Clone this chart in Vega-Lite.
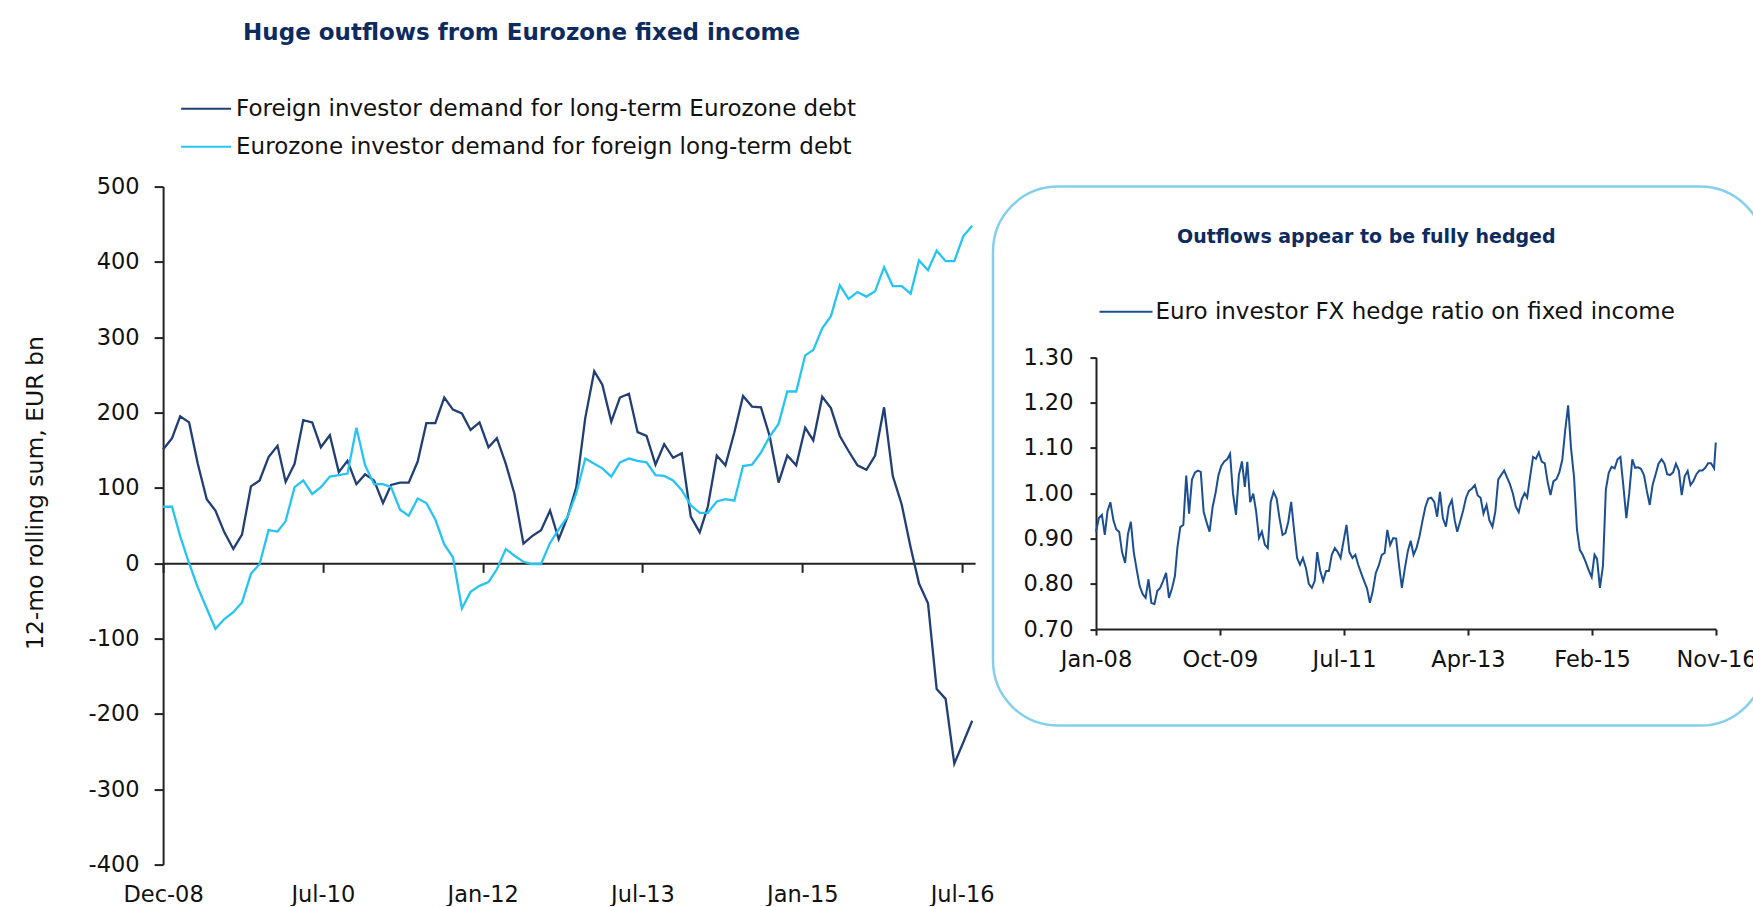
{
  "$schema": "https://vega.github.io/schema/vega-lite/v6.json",
  "autosize": {"type": "pad"},
  "padding": {"left": 23.1, "top": 21.6, "right": 0, "bottom": 0},
  "background": "white",
  "config": {
    "font": "DejaVu Sans",
    "view": {"stroke": null},
    "axis": {"grid": false, "domainColor": "#222222", "tickColor": "#222222", "labelColor": "#111111", "labelFont": "DejaVu Sans", "labelFontSize": 22.5, "domainWidth": 2, "tickWidth": 2, "titleFont": "DejaVu Sans", "titleFontWeight": "normal", "titleColor": "#111111", "labelFlush": false},
    "legend": {"labelFont": "DejaVu Sans", "labelFontSize": 23, "labelColor": "#111111", "labelLimit": 1000, "symbolType": "stroke", "symbolStrokeWidth": 2, "padding": 0}
  },
  "datasets": {
    "flows": [
      {"date":"2008-12-31","foreign":151,"eurozone":75},
      {"date":"2009-01-31","foreign":166,"eurozone":75},
      {"date":"2009-02-28","foreign":195,"eurozone":36},
      {"date":"2009-03-31","foreign":187,"eurozone":0},
      {"date":"2009-04-30","foreign":132,"eurozone":-32},
      {"date":"2009-05-31","foreign":85,"eurozone":-60},
      {"date":"2009-06-30","foreign":70,"eurozone":-87},
      {"date":"2009-07-31","foreign":41,"eurozone":-74},
      {"date":"2009-08-31","foreign":19,"eurozone":-65},
      {"date":"2009-09-30","foreign":38,"eurozone":-52},
      {"date":"2009-10-31","foreign":102,"eurozone":-14},
      {"date":"2009-11-30","foreign":110,"eurozone":-1},
      {"date":"2009-12-31","foreign":141,"eurozone":44},
      {"date":"2010-01-31","foreign":156,"eurozone":42},
      {"date":"2010-02-28","foreign":108,"eurozone":56},
      {"date":"2010-03-31","foreign":132,"eurozone":101},
      {"date":"2010-04-30","foreign":190,"eurozone":110},
      {"date":"2010-05-31","foreign":187,"eurozone":92},
      {"date":"2010-06-30","foreign":154,"eurozone":101},
      {"date":"2010-07-31","foreign":170,"eurozone":115},
      {"date":"2010-08-31","foreign":121,"eurozone":117},
      {"date":"2010-09-30","foreign":136,"eurozone":119},
      {"date":"2010-10-31","foreign":105,"eurozone":180},
      {"date":"2010-11-30","foreign":118,"eurozone":130},
      {"date":"2010-12-31","foreign":110,"eurozone":105},
      {"date":"2011-01-31","foreign":80,"eurozone":105},
      {"date":"2011-02-28","foreign":104,"eurozone":101},
      {"date":"2011-03-31","foreign":107,"eurozone":71},
      {"date":"2011-04-30","foreign":107,"eurozone":63},
      {"date":"2011-05-31","foreign":135,"eurozone":86},
      {"date":"2011-06-30","foreign":186,"eurozone":80},
      {"date":"2011-07-31","foreign":186,"eurozone":58},
      {"date":"2011-08-31","foreign":220,"eurozone":25},
      {"date":"2011-09-30","foreign":204,"eurozone":8},
      {"date":"2011-10-31","foreign":199,"eurozone":-60},
      {"date":"2011-11-30","foreign":177,"eurozone":-38},
      {"date":"2011-12-31","foreign":187,"eurozone":-30},
      {"date":"2012-01-31","foreign":154,"eurozone":-25},
      {"date":"2012-02-29","foreign":166,"eurozone":-8},
      {"date":"2012-03-31","foreign":132,"eurozone":19},
      {"date":"2012-04-30","foreign":92,"eurozone":10},
      {"date":"2012-05-31","foreign":26,"eurozone":2},
      {"date":"2012-06-30","foreign":36,"eurozone":-1},
      {"date":"2012-07-31","foreign":44,"eurozone":-1},
      {"date":"2012-08-31","foreign":70,"eurozone":27},
      {"date":"2012-09-30","foreign":32,"eurozone":45},
      {"date":"2012-10-31","foreign":62,"eurozone":62},
      {"date":"2012-11-30","foreign":101,"eurozone":93},
      {"date":"2012-12-31","foreign":193,"eurozone":139},
      {"date":"2013-01-31","foreign":255,"eurozone":132},
      {"date":"2013-02-28","foreign":237,"eurozone":126},
      {"date":"2013-03-31","foreign":188,"eurozone":115},
      {"date":"2013-04-30","foreign":220,"eurozone":134},
      {"date":"2013-05-31","foreign":225,"eurozone":139},
      {"date":"2013-06-30","foreign":174,"eurozone":136},
      {"date":"2013-07-31","foreign":169,"eurozone":134},
      {"date":"2013-08-31","foreign":131,"eurozone":117},
      {"date":"2013-09-30","foreign":158,"eurozone":116},
      {"date":"2013-10-31","foreign":140,"eurozone":110},
      {"date":"2013-11-30","foreign":146,"eurozone":97},
      {"date":"2013-12-31","foreign":62,"eurozone":77},
      {"date":"2014-01-31","foreign":41,"eurozone":67},
      {"date":"2014-02-28","foreign":75,"eurozone":67},
      {"date":"2014-03-31","foreign":143,"eurozone":82},
      {"date":"2014-04-30","foreign":130,"eurozone":85},
      {"date":"2014-05-31","foreign":174,"eurozone":83},
      {"date":"2014-06-30","foreign":222,"eurozone":129},
      {"date":"2014-07-31","foreign":208,"eurozone":131},
      {"date":"2014-08-31","foreign":207,"eurozone":147},
      {"date":"2014-09-30","foreign":169,"eurozone":168},
      {"date":"2014-10-31","foreign":107,"eurozone":185},
      {"date":"2014-11-30","foreign":143,"eurozone":228},
      {"date":"2014-12-31","foreign":130,"eurozone":228},
      {"date":"2015-01-31","foreign":180,"eurozone":276},
      {"date":"2015-02-28","foreign":163,"eurozone":283},
      {"date":"2015-03-31","foreign":221,"eurozone":312},
      {"date":"2015-04-30","foreign":206,"eurozone":328},
      {"date":"2015-05-31","foreign":169,"eurozone":369},
      {"date":"2015-06-30","foreign":149,"eurozone":351},
      {"date":"2015-07-31","foreign":130,"eurozone":360},
      {"date":"2015-08-31","foreign":124,"eurozone":354},
      {"date":"2015-09-30","foreign":143,"eurozone":361},
      {"date":"2015-10-31","foreign":207,"eurozone":393},
      {"date":"2015-11-30","foreign":116,"eurozone":368},
      {"date":"2015-12-31","foreign":78,"eurozone":368},
      {"date":"2016-01-31","foreign":21,"eurozone":358},
      {"date":"2016-02-29","foreign":-27,"eurozone":402},
      {"date":"2016-03-31","foreign":-53,"eurozone":389},
      {"date":"2016-04-30","foreign":-167,"eurozone":415},
      {"date":"2016-05-31","foreign":-180,"eurozone":401},
      {"date":"2016-06-30","foreign":-266,"eurozone":401},
      {"date":"2016-07-31","foreign":-238,"eurozone":434},
      {"date":"2016-08-31","foreign":-209,"eurozone":448}
    ],
    "hedge": [
      {"date":"2008-01-01","hedge":0.915},{"date":"2008-01-16","hedge":0.945},
      {"date":"2008-02-01","hedge":0.952},{"date":"2008-02-16","hedge":0.908},
      {"date":"2008-03-01","hedge":0.96},{"date":"2008-03-16","hedge":0.98},
      {"date":"2008-04-01","hedge":0.94},{"date":"2008-04-16","hedge":0.92},
      {"date":"2008-05-01","hedge":0.915},{"date":"2008-05-16","hedge":0.87},
      {"date":"2008-06-01","hedge":0.846},{"date":"2008-06-16","hedge":0.91},
      {"date":"2008-07-01","hedge":0.937},{"date":"2008-07-16","hedge":0.87},
      {"date":"2008-08-01","hedge":0.83},{"date":"2008-08-16","hedge":0.795},
      {"date":"2008-09-01","hedge":0.777},{"date":"2008-09-16","hedge":0.769},
      {"date":"2008-10-01","hedge":0.81},{"date":"2008-10-16","hedge":0.758},
      {"date":"2008-11-01","hedge":0.755},{"date":"2008-11-16","hedge":0.784},
      {"date":"2008-12-01","hedge":0.791},{"date":"2008-12-16","hedge":0.806},
      {"date":"2009-01-01","hedge":0.824},{"date":"2009-01-16","hedge":0.769},
      {"date":"2009-02-01","hedge":0.79},{"date":"2009-02-16","hedge":0.817},
      {"date":"2009-03-01","hedge":0.88},{"date":"2009-03-16","hedge":0.925},
      {"date":"2009-04-01","hedge":0.93},{"date":"2009-04-16","hedge":1.039},
      {"date":"2009-05-01","hedge":0.955},{"date":"2009-05-16","hedge":1.03},
      {"date":"2009-06-01","hedge":1.046},{"date":"2009-06-16","hedge":1.05},
      {"date":"2009-07-01","hedge":1.047},{"date":"2009-07-16","hedge":0.959},
      {"date":"2009-08-01","hedge":0.935},{"date":"2009-08-16","hedge":0.915},
      {"date":"2009-09-01","hedge":0.97},{"date":"2009-09-16","hedge":1.0},
      {"date":"2009-10-01","hedge":1.039},{"date":"2009-10-16","hedge":1.06},
      {"date":"2009-11-01","hedge":1.07},{"date":"2009-11-16","hedge":1.075},
      {"date":"2009-12-01","hedge":1.087},{"date":"2009-12-16","hedge":1.0},
      {"date":"2010-01-01","hedge":0.952},{"date":"2010-01-16","hedge":1.04},
      {"date":"2010-02-01","hedge":1.07},{"date":"2010-02-16","hedge":1.014},
      {"date":"2010-03-01","hedge":1.069},{"date":"2010-03-16","hedge":0.98},
      {"date":"2010-04-01","hedge":0.999},{"date":"2010-04-16","hedge":0.96},
      {"date":"2010-05-01","hedge":0.901},{"date":"2010-05-16","hedge":0.915},
      {"date":"2010-06-01","hedge":0.886},{"date":"2010-06-16","hedge":0.879},
      {"date":"2010-07-01","hedge":0.98},{"date":"2010-07-16","hedge":1.003},
      {"date":"2010-08-01","hedge":0.988},{"date":"2010-08-16","hedge":0.945},
      {"date":"2010-09-01","hedge":0.908},{"date":"2010-09-16","hedge":0.912},
      {"date":"2010-10-01","hedge":0.937},{"date":"2010-10-16","hedge":0.981},
      {"date":"2010-11-01","hedge":0.915},{"date":"2010-11-16","hedge":0.857},
      {"date":"2010-12-01","hedge":0.842},{"date":"2010-12-16","hedge":0.857},
      {"date":"2011-01-01","hedge":0.835},{"date":"2011-01-16","hedge":0.8},
      {"date":"2011-02-01","hedge":0.791},{"date":"2011-02-16","hedge":0.806},
      {"date":"2011-03-01","hedge":0.87},{"date":"2011-03-16","hedge":0.83},
      {"date":"2011-04-01","hedge":0.806},{"date":"2011-04-16","hedge":0.828},
      {"date":"2011-05-01","hedge":0.828},{"date":"2011-05-16","hedge":0.864},
      {"date":"2011-06-01","hedge":0.879},{"date":"2011-06-16","hedge":0.87},
      {"date":"2011-07-01","hedge":0.857},{"date":"2011-07-16","hedge":0.893},
      {"date":"2011-08-01","hedge":0.93},{"date":"2011-08-16","hedge":0.87},
      {"date":"2011-09-01","hedge":0.857},{"date":"2011-09-16","hedge":0.864},
      {"date":"2011-10-01","hedge":0.842},{"date":"2011-10-16","hedge":0.824},
      {"date":"2011-11-01","hedge":0.806},{"date":"2011-11-16","hedge":0.79},
      {"date":"2011-12-01","hedge":0.758},{"date":"2011-12-16","hedge":0.784},
      {"date":"2012-01-01","hedge":0.824},{"date":"2012-01-16","hedge":0.84},
      {"date":"2012-02-01","hedge":0.864},{"date":"2012-02-16","hedge":0.868},
      {"date":"2012-03-01","hedge":0.919},{"date":"2012-03-16","hedge":0.886},
      {"date":"2012-04-01","hedge":0.901},{"date":"2012-04-16","hedge":0.9},
      {"date":"2012-05-01","hedge":0.842},{"date":"2012-05-16","hedge":0.791},
      {"date":"2012-06-01","hedge":0.835},{"date":"2012-06-16","hedge":0.872},
      {"date":"2012-07-01","hedge":0.895},{"date":"2012-07-16","hedge":0.864},
      {"date":"2012-08-01","hedge":0.88},{"date":"2012-08-16","hedge":0.905},
      {"date":"2012-09-01","hedge":0.94},{"date":"2012-09-16","hedge":0.97},
      {"date":"2012-10-01","hedge":0.988},{"date":"2012-10-16","hedge":0.99},
      {"date":"2012-11-01","hedge":0.981},{"date":"2012-11-16","hedge":0.948},
      {"date":"2012-12-01","hedge":1.003},{"date":"2012-12-16","hedge":0.945},
      {"date":"2013-01-01","hedge":0.926},{"date":"2013-01-16","hedge":0.97},
      {"date":"2013-02-01","hedge":0.985},{"date":"2013-02-16","hedge":0.94},
      {"date":"2013-03-01","hedge":0.915},{"date":"2013-03-16","hedge":0.937},
      {"date":"2013-04-01","hedge":0.962},{"date":"2013-04-16","hedge":0.99},
      {"date":"2013-05-01","hedge":1.005},{"date":"2013-05-16","hedge":1.01},
      {"date":"2013-06-01","hedge":1.018},{"date":"2013-06-16","hedge":0.995},
      {"date":"2013-07-01","hedge":0.99},{"date":"2013-07-16","hedge":0.955},
      {"date":"2013-08-01","hedge":0.974},{"date":"2013-08-16","hedge":0.94},
      {"date":"2013-09-01","hedge":0.926},{"date":"2013-09-16","hedge":0.96},
      {"date":"2013-10-01","hedge":1.03},{"date":"2013-10-16","hedge":1.04},
      {"date":"2013-11-01","hedge":1.05},{"date":"2013-11-16","hedge":1.035},
      {"date":"2013-12-01","hedge":1.02},{"date":"2013-12-16","hedge":1.0},
      {"date":"2014-01-01","hedge":0.97},{"date":"2014-01-16","hedge":0.958},
      {"date":"2014-02-01","hedge":0.987},{"date":"2014-02-16","hedge":1.0},
      {"date":"2014-03-01","hedge":0.99},{"date":"2014-03-16","hedge":1.035},
      {"date":"2014-04-01","hedge":1.08},{"date":"2014-04-16","hedge":1.076},
      {"date":"2014-05-01","hedge":1.09},{"date":"2014-05-16","hedge":1.07},
      {"date":"2014-06-01","hedge":1.066},{"date":"2014-06-16","hedge":1.025},
      {"date":"2014-07-01","hedge":0.996},{"date":"2014-07-16","hedge":1.026},
      {"date":"2014-08-01","hedge":1.031},{"date":"2014-08-16","hedge":1.046},
      {"date":"2014-09-01","hedge":1.075},{"date":"2014-09-16","hedge":1.14},
      {"date":"2014-10-01","hedge":1.194},{"date":"2014-10-16","hedge":1.1},
      {"date":"2014-11-01","hedge":1.035},{"date":"2014-11-16","hedge":0.92},
      {"date":"2014-12-01","hedge":0.875},{"date":"2014-12-16","hedge":0.864},
      {"date":"2015-01-01","hedge":0.848},{"date":"2015-01-16","hedge":0.83},
      {"date":"2015-02-01","hedge":0.815},{"date":"2015-02-16","hedge":0.864},
      {"date":"2015-03-01","hedge":0.855},{"date":"2015-03-16","hedge":0.791},
      {"date":"2015-04-01","hedge":0.84},{"date":"2015-04-16","hedge":1.008},
      {"date":"2015-05-01","hedge":1.045},{"date":"2015-05-16","hedge":1.058},
      {"date":"2015-06-01","hedge":1.055},{"date":"2015-06-16","hedge":1.075},
      {"date":"2015-07-01","hedge":1.08},{"date":"2015-07-16","hedge":1.018},
      {"date":"2015-08-01","hedge":0.945},{"date":"2015-08-16","hedge":1.0},
      {"date":"2015-09-01","hedge":1.075},{"date":"2015-09-16","hedge":1.056},
      {"date":"2015-10-01","hedge":1.057},{"date":"2015-10-16","hedge":1.054},
      {"date":"2015-11-01","hedge":1.04},{"date":"2015-11-16","hedge":1.005},
      {"date":"2015-12-01","hedge":0.974},{"date":"2015-12-16","hedge":1.018},
      {"date":"2016-01-01","hedge":1.042},{"date":"2016-01-16","hedge":1.065},
      {"date":"2016-02-01","hedge":1.075},{"date":"2016-02-16","hedge":1.065},
      {"date":"2016-03-01","hedge":1.042},{"date":"2016-03-16","hedge":1.04},
      {"date":"2016-04-01","hedge":1.046},{"date":"2016-04-16","hedge":1.065},
      {"date":"2016-05-01","hedge":1.05},{"date":"2016-05-16","hedge":0.996},
      {"date":"2016-06-01","hedge":1.038},{"date":"2016-06-16","hedge":1.049},
      {"date":"2016-07-01","hedge":1.018},{"date":"2016-07-16","hedge":1.027},
      {"date":"2016-08-01","hedge":1.042},{"date":"2016-08-16","hedge":1.05},
      {"date":"2016-09-01","hedge":1.05},{"date":"2016-09-16","hedge":1.056},
      {"date":"2016-10-01","hedge":1.066},{"date":"2016-10-16","hedge":1.066},
      {"date":"2016-11-01","hedge":1.055},{"date":"2016-11-10","hedge":1.112}
    ]
  },
  "spacing": 17.9,
  "bounds": "flush",
  "resolve": {"scale": {"x": "independent", "y": "independent", "color": "independent"}, "legend": {"color": "independent"}},
  "hconcat": [
    {
      "width": 812,
      "height": 678,
      "title": {"text": "Huge outflows from Eurozone fixed income", "anchor": "start", "frame": "group", "dx": 80, "offset": 37.8, "fontSize": 23, "fontWeight": "bold", "color": "#0d2b5e", "font": "DejaVu Sans"},
      "data": {"name": "flows"},
      "transform": [{"fold": ["foreign", "eurozone"], "as": ["series", "value"]}],
      "mark": {"type": "line", "strokeWidth": 2.3},
      "encoding": {
        "x": {
          "field": "date", "type": "temporal",
          "scale": {"type": "utc", "domain": [{"year": 2008, "month": 12, "date": 31, "utc": true}, {"year": 2016, "month": 9, "date": 10, "utc": true}]},
          "axis": {
            "title": null, "format": "%b-%y", "offset": -301.3, "tickSize": 9, "labelPadding": 310.8, "labelFlush": false,
            "values": [
              {"year": 2008, "month": 12, "date": 31, "utc": true},
              {"year": 2010, "month": 7, "date": 7, "utc": true},
              {"year": 2012, "month": 1, "date": 11, "utc": true},
              {"year": 2013, "month": 7, "date": 17, "utc": true},
              {"year": 2015, "month": 1, "date": 21, "utc": true},
              {"year": 2016, "month": 7, "date": 27, "utc": true}
            ]
          }
        },
        "y": {
          "field": "value", "type": "quantitative",
          "scale": {"domain": [-400, 500], "nice": false},
          "axis": {"title": "12-mo rolling sum, EUR bn", "values": [-400, -300, -200, -100, 0, 100, 200, 300, 400, 500], "labelExpr": "datum.value < 0 ? '-' + abs(datum.value) : '' + datum.value", "tickSize": 9, "labelPadding": 15, "titleFontSize": 23.5, "titleX": -128, "titleY": 306, "titleAlign": "center", "titleBaseline": "middle"}
        },
        "color": {
          "field": "series", "type": "nominal",
          "scale": {"domain": ["foreign", "eurozone"], "range": ["#213f73", "#27c4f3"]},
          "legend": {"title": null, "orient": "none", "legendX": 17, "legendY": -103.8, "direction": "vertical", "symbolSize": 2500, "rowPadding": -11.5, "labelOffset": 4,
            "labelExpr": "datum.label == 'foreign' ? 'Foreign investor demand for long-term Eurozone debt' : 'Eurozone investor demand for foreign long-term debt'"}
        }
      }
    },
    {
      "width": 772,
      "height": 539,
      "view": {"stroke": "#84d0ec", "strokeWidth": 2.5, "cornerRadius": 65, "fill": "white"},
      "title": {"text": "Outflows appear to be fully hedged", "anchor": "start", "frame": "group", "dx": 184, "offset": -60, "fontSize": 19, "fontWeight": "bold", "color": "#0d2b5e", "font": "DejaVu Sans"},
      "data": {"name": "hedge"},
      "mark": {"type": "line", "strokeWidth": 2},
      "encoding": {
        "x": {
          "field": "date", "type": "temporal",
          "scale": {"type": "utc", "domain": [{"year": 2008, "month": 1, "date": 1, "utc": true}, {"year": 2016, "month": 11, "date": 11, "utc": true}], "range": [103, 723]},
          "axis": {
            "title": null, "format": "%b-%y", "offset": -96.5, "tickSize": 6, "labelPadding": 13.4, "labelFlush": false,
            "values": [
              {"year": 2008, "month": 1, "date": 1, "utc": true},
              {"year": 2009, "month": 10, "date": 9, "utc": true},
              {"year": 2011, "month": 7, "date": 19, "utc": true},
              {"year": 2013, "month": 4, "date": 26, "utc": true},
              {"year": 2015, "month": 2, "date": 3, "utc": true},
              {"year": 2016, "month": 11, "date": 11, "utc": true}
            ]
          }
        },
        "y": {
          "field": "hedge", "type": "quantitative",
          "scale": {"domain": [0.7, 1.3], "nice": false, "zero": false, "range": [442.5, 170.7]},
          "axis": {"title": null, "values": [0.7, 0.8, 0.9, 1.0, 1.1, 1.2, 1.3], "format": ".2f", "offset": -103, "tickSize": 6, "labelPadding": 17}
        },
        "color": {
          "datum": "Euro investor FX hedge ratio on fixed income", "type": "nominal",
          "scale": {"range": ["#1b4f91"]},
          "legend": {"title": null, "orient": "none", "legendX": 105.5, "legendY": 97.7, "symbolSize": 2809, "labelOffset": 2}
        }
      }
    }
  ]
}
